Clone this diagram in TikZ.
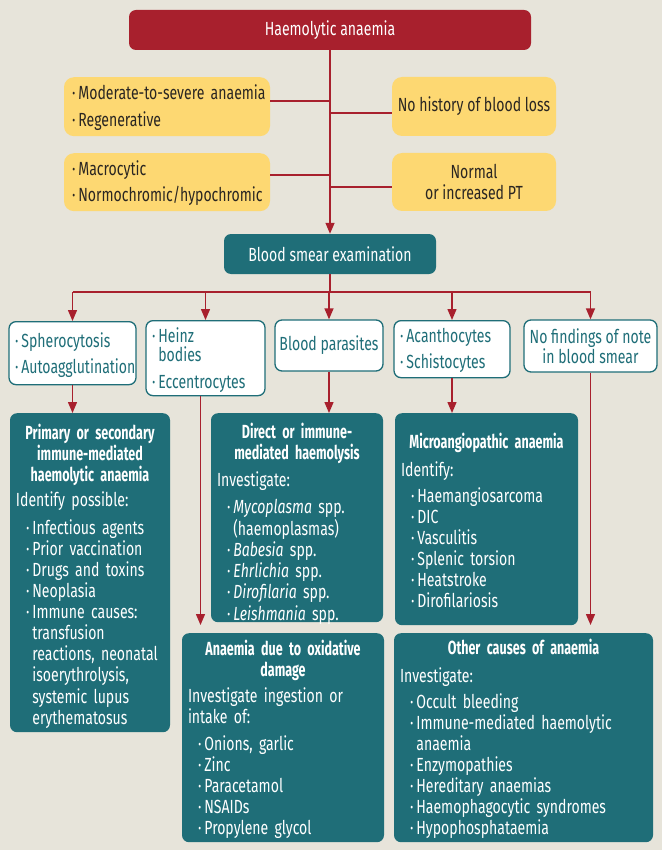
\documentclass[tikz,border=0pt]{standalone}
\usepackage{fontspec}
\setmainfont{Fira Sans}[FakeStretch=0.74, BoldFeatures={FakeStretch=0.66}]
\usepackage{tikz}
\usetikzlibrary{arrows.meta,positioning,calc}
\definecolor{hcbg}{HTML}{E7E4DA}
\definecolor{hcred}{HTML}{A8202D}
\definecolor{hcteal}{HTML}{1F6E78}
\definecolor{hcyellow}{HTML}{FDD872}
\definecolor{hcdark}{HTML}{2A2622}
\newcommand{\bulletrows}[1]{\begin{tabular}[t]{@{}l@{\hspace{3pt}}l@{}}#1\end{tabular}}

\begin{document}
\begin{tikzpicture}[x=1pt,y=-1pt,
  link/.style={draw=hcred, line width=1.4pt},
  arr/.style={link, -{Triangle[length=11pt,width=9pt]}},
  box/.style={rounded corners=7pt, inner sep=0pt, font=\fontsize{19}{21}\selectfont},
  redbox/.style={box, fill=hcred, text=white},
  yellowbox/.style={box, rounded corners=10pt, fill=hcyellow, text=hcdark},
  smearbox/.style={box, fill=hcteal, text=white},
  findbox/.style={box, fill=white, draw=hcteal, line width=1.3pt, text=hcteal},
  causebox/.style={box, fill=hcteal, text=white, align=left, inner xsep=6pt},
]
\fill[hcbg] (0,0) rectangle (662,850);
\useasboundingbox (0,0) rectangle (662,850);

% top of the chart
\node[redbox, minimum width=402pt, minimum height=40pt] (title) at (330,30) {Haemolytic anaemia};
\node[yellowbox, text width=190pt, inner xsep=8pt, align=left, text height=22pt, text depth=37pt] (anaemia) at (167,77)
  [anchor=north] {\bulletrows{·&Moderate-to-severe anaemia\\[6pt] ·&Regenerative}};
\node[yellowbox, text width=190pt, inner xsep=8pt, align=left, text height=22pt, text depth=36pt] (macro) at (167,153)
  [anchor=north] {\bulletrows{·&Macrocytic\\[5pt] ·&Normochromic/hypochromic}};
\node[yellowbox, minimum width=164pt, minimum height=59pt] (noloss) at (474,106.5) {No history of blood loss};
\node[yellowbox, minimum width=164pt, minimum height=58pt, align=center] (normpt) at (474,182) {Normal\\or increased PT};
\node[smearbox, minimum width=212pt, minimum height=40pt] (smear) at (330,254) {Blood smear examination};

% smear findings
\node[findbox, text width=115pt, inner xsep=6pt, align=left, text height=26pt, text depth=37pt, anchor=north] (sphero) at (72.5,321)
  {\bulletrows{·&Spherocytosis\\[5pt] ·&Autoagglutination}};
\node[findbox, text width=107pt, inner xsep=6pt, align=left, text height=22pt, text depth=53pt, anchor=north] (heinz) at (205.5,320)
  {\bulletrows{·&Heinz\\[-2pt] &bodies\\[6pt] ·&Eccentrocytes}};
\node[findbox, minimum width=108pt, minimum height=51pt] (parasite) at (329,345.5) {Blood parasites};
\node[findbox, text width=104pt, inner xsep=6pt, align=left, text height=22pt, text depth=35pt, anchor=north] (acantho) at (452,320)
  {\bulletrows{·&Acanthocytes\\[5pt] ·&Schistocytes}};
\node[findbox, minimum width=133pt, minimum height=52pt, align=center,
  font=\fontsize{19}{20}\selectfont] (nofind) at (590.5,346)
  {No findings of note\\in blood smear};

% causes
\node[causebox, text width=148pt, text height=26pt, text depth=293pt, anchor=north] (imha) at (90,413)
  {{\centering\bfseries Primary or secondary\\immune-mediated\\haemolytic anaemia\par}
   \vspace{4pt}Identify possible:\par\vspace{7pt}
   \hspace*{10pt}\bulletrows{·&Infectious agents\\ ·&Prior vaccination\\ ·&Drugs and toxins\\ ·&Neoplasia\\
     ·&Immune causes:\\ &transfusion\\ &reactions, neonatal\\ &isoerythrolysis,\\ &systemic lupus\\ &erythematosus}};
\node[causebox, text width=160pt, text height=25pt, text depth=184pt, anchor=north] (direct) at (297,413)
  {{\centering\bfseries Direct or immune-\\mediated haemolysis\par}
   \vspace{6pt}Investigate:\par\vspace{6pt}
   \hspace*{10pt}\bulletrows{·&\textit{Mycoplasma} spp.\\ &(haemoplasmas)\\ ·&\textit{Babesia} spp.\\
     ·&\textit{Ehrlichia} spp.\\ ·&\textit{Dirofilaria} spp.\\ ·&\textit{Leishmania} spp.}};
\node[causebox, text width=171pt, text height=35pt, text depth=177pt, anchor=north] (micro) at (486.5,413)
  {{\centering\bfseries Microangiopathic anaemia\par}
   \vspace{7pt}Identify:\par\vspace{5pt}
   \hspace*{10pt}\bulletrows{·&Haemangiosarcoma\\ ·&DIC\\ ·&Vasculitis\\ ·&Splenic torsion\\ ·&Heatstroke\\ ·&Dirofilariosis}};
\node[causebox, text width=190pt, text height=22pt, text depth=187pt, anchor=north] (oxid) at (283,633)
  {{\centering\bfseries Anaemia due to oxidative\\damage\par}
   \vspace{5pt}Investigate ingestion or\\intake of:\par\vspace{6pt}
   \hspace*{10pt}\bulletrows{·&Onions, garlic\\ ·&Zinc\\ ·&Paracetamol\\ ·&NSAIDs\\ ·&Propylene glycol}};
\node[causebox, text width=247pt, text height=21pt, text depth=188pt, anchor=north] (other) at (523.5,633)
  {{\centering\bfseries Other causes of anaemia\par}
   \vspace{7pt}Investigate:\par\vspace{5pt}
   \hspace*{10pt}\bulletrows{·&Occult bleeding\\ ·&Immune-mediated haemolytic\\ &anaemia\\ ·&Enzymopathies\\
     ·&Hereditary anaemias\\ ·&Haemophagocytic syndromes\\ ·&Hypophosphataemia}};

% connectors
\coordinate (j1) at (330,101);
\coordinate (j2) at (330,175);
\coordinate (j3) at (330,113);
\coordinate (j4) at (330,187);
\coordinate (bus) at (330,292);
\draw[arr] (title) -- (smear);
\draw[link] (j1 -| anaemia.east) -- (j1);
\draw[link] (j2 -| macro.east) -- (j2);
\draw[link] (j3) -- (j3 -| noloss.west);
\draw[link] (j4) -- (j4 -| normpt.west);
\draw[link] (smear) -- (bus);
\draw[link] (bus -| sphero) -- (bus -| nofind);
\foreach \n in {sphero,heinz,parasite,acantho,nofind}
  \draw[arr] (bus -| \n.north) -- (\n.north);
\draw[arr] (sphero.south) -- (sphero.south |- imha.north);
\draw[arr] (parasite.south) -- (parasite.south |- direct.north);
\draw[arr] (acantho.south) -- (acantho.south |- micro.north);
\draw[arr, shorten >=8pt] ([xshift=-5pt]heinz.south) -- ([xshift=-5pt]heinz.south |- oxid.north);
\draw[arr, shorten >=8pt] (nofind.south) -- (nofind.south |- other.north);
\end{tikzpicture}
\end{document}
